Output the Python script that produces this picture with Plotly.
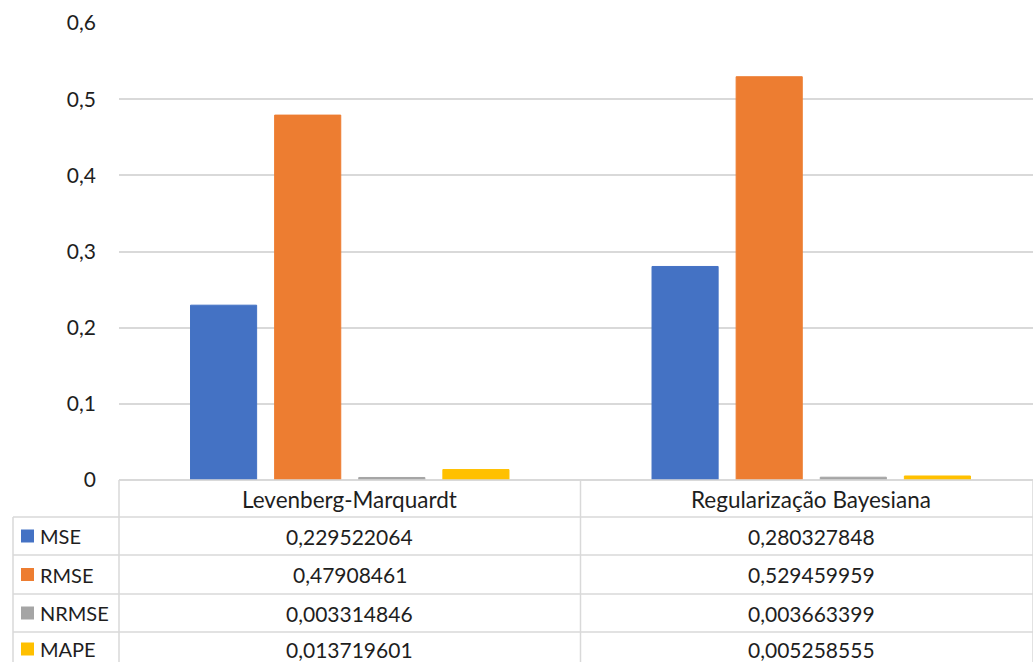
import plotly.graph_objects as go

# Error metrics for the two training algorithms
categories = ["Levenberg-Marquardt", "Regularização Bayesiana"]
series_names = ["MSE", "RMSE", "NRMSE", "MAPE"]
mse = [0.229522064, 0.280327848]
rmse = [0.47908461, 0.529459959]
nrmse = [0.003314846, 0.003663399]
mape = [0.013719601, 0.005258555]
tick_vals = [0, 0.1, 0.2, 0.3, 0.4, 0.5, 0.6]
tick_text = ["0", "0,1", "0,2", "0,3", "0,4", "0,5", "0,6"]

colors = ["#4472C4", "#ED7D31", "#A5A5A5", "#FFC000"]
series_values = [mse, rmse, nrmse, mape]

W, H = 1033, 662
FONT = "Lato"
TXT = "#1e1e1e"
GRID = "#d9d9d9"


def px(x):
    return x / W


def py(y):
    return 1 - y / H


def fmt(v):
    return f"{v:.9f}".rstrip("0").replace(".", ",")


fig = go.Figure()
for name, vals, col in zip(series_names, series_values, colors):
    fig.add_trace(go.Bar(
        name=name, x=categories, y=vals,
        marker=dict(color=col, line=dict(color=col, width=1)),
        hoverinfo="x+y+name",
    ))

# plot area: x 119..1033 px (each category slot is 461.5 px, the right one is clipped)
x0, x1 = 119, 1033
slot = 461.5
y_top, y_zero = 23, 480
col_mid = x0 + slot
left_edge = 13
row_lines = [517, 555, 594, 632, 670]
row_text_y = [536, 574.5, 613, 649]

shapes = []
line_style = dict(color=GRID, width=1.5)
# data table borders
shapes.append(dict(type="line", xref="paper", yref="paper",
                   x0=px(x0), x1=px(x1), y0=py(y_zero), y1=py(y_zero), line=line_style))
for yl in row_lines[:-1]:
    shapes.append(dict(type="line", xref="paper", yref="paper",
                       x0=px(left_edge), x1=px(x1), y0=py(yl), y1=py(yl), line=line_style))
shapes.append(dict(type="line", xref="paper", yref="paper",
                   x0=px(left_edge), x1=px(left_edge), y0=py(row_lines[0]), y1=0, line=line_style))
for xv in (x0, col_mid, x1):
    shapes.append(dict(type="line", xref="paper", yref="paper",
                       x0=px(xv), x1=px(xv), y0=py(y_zero), y1=0, line=line_style))

annotations = []
col_centers = [x0 + slot * 0.5, x0 + slot * 1.5]
for cat, cx in zip(categories, col_centers):
    annotations.append(dict(text=cat, x=px(cx), y=py((y_zero + row_lines[0]) / 2 + 1),
                            xref="paper", yref="paper", showarrow=False,
                            xanchor="center", yanchor="middle", borderpad=0,
                            font=dict(family=FONT, size=22.5, color=TXT)))

for i, (name, vals, col) in enumerate(zip(series_names, series_values, colors)):
    yc = row_text_y[i]
    # legend key
    shapes.append(dict(type="rect", xref="paper", yref="paper",
                       x0=px(21), x1=px(34), y0=py(yc - 6.5), y1=py(yc + 6.5),
                       fillcolor=col, line=dict(width=0)))
    annotations.append(dict(text=name, x=px(39), y=py(yc), xref="paper", yref="paper",
                            showarrow=False, xanchor="left", yanchor="middle", borderpad=0,
                            font=dict(family=FONT, size=20, color=TXT)))
    for v, cx in zip(vals, col_centers):
        annotations.append(dict(text=fmt(v), x=px(cx), y=py(yc), xref="paper", yref="paper",
                                showarrow=False, xanchor="center", yanchor="middle", borderpad=0,
                                font=dict(family=FONT, size=21, color=TXT)))

fig.update_layout(
    width=W, height=H,
    margin=dict(l=0, r=0, t=0, b=0, autoexpand=False),
    paper_bgcolor="white", plot_bgcolor="white",
    showlegend=False,
    barmode="group", bargap=0.271, bargroupgap=0.214,
    font=dict(family=FONT, size=19, color=TXT),
    xaxis=dict(domain=[px(x0), px(x1)], range=[-0.5, -0.5 + (x1 - x0) / slot],
               showticklabels=False, showgrid=False,
               zeroline=False, showline=False, ticks="", automargin=False),
    yaxis=dict(domain=[py(y_zero), py(y_top)], range=[0, 0.6],
               tickvals=tick_vals, ticktext=tick_text,
               showgrid=True, gridcolor=GRID, gridwidth=1.5,
               zeroline=True, zerolinecolor=GRID, zerolinewidth=1.5,
               showline=False, ticks="", ticklabelstandoff=22, automargin=False,
               tickfont=dict(family=FONT, size=21, color=TXT)),
    shapes=shapes, annotations=annotations,
)

fig.write_html("out.html")
